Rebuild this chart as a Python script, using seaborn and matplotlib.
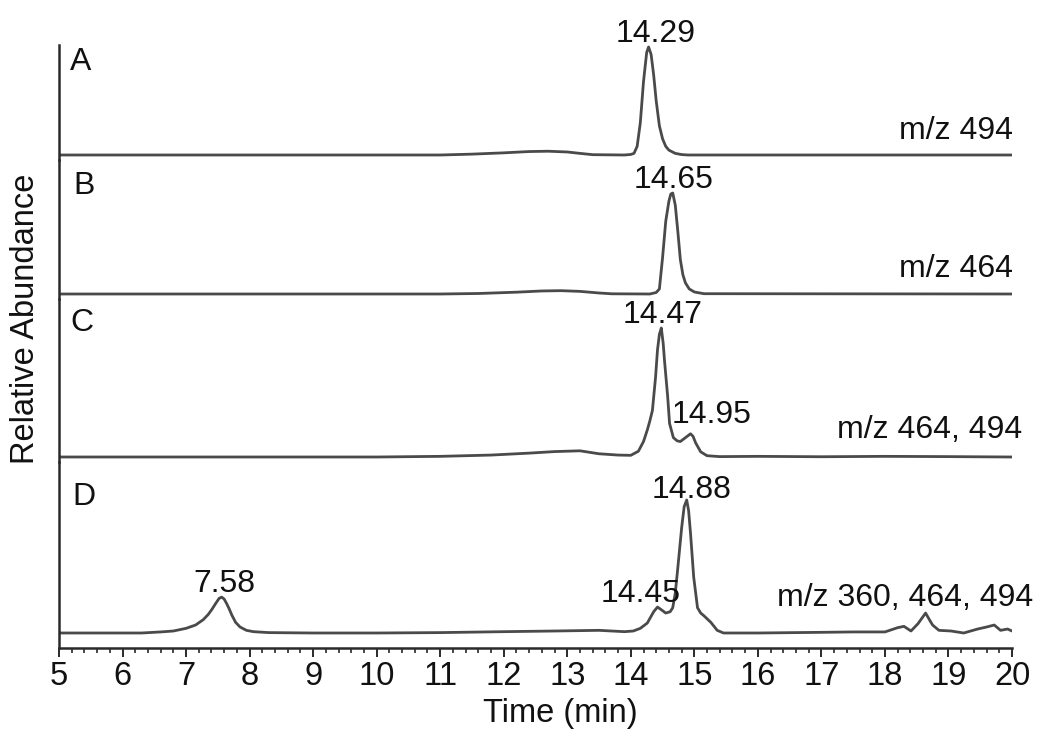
import numpy as np
import pandas as pd
import matplotlib
matplotlib.use("Agg")
import matplotlib.pyplot as plt
from matplotlib.ticker import MultipleLocator
import seaborn as sns

# ---------------- data ----------------
panel_names = ["A", "B", "C", "D"]
mz_labels = ["m/z 494", "m/z 464", "m/z 464, 494", "m/z 360, 464, 494"]

A_t = [5.0, 11.0, 11.5, 12.0, 12.4, 12.7, 13.0, 13.2, 13.4, 13.9, 14.0, 14.05, 14.1,
       14.15, 14.2, 14.25, 14.28, 14.32, 14.36, 14.4, 14.45, 14.5, 14.55, 14.6, 14.7,
       14.8, 14.9, 20.0]
A_v = [0, 0, 0.8, 2.0, 3.2, 3.5, 2.8, 1.5, 0.3, 0, 0.5, 1.5, 8,
       30, 68, 95, 100, 93, 74, 50, 27, 15, 8, 4.5, 1.5,
       0.4, 0, 0]

B_t = [5.0, 11.0, 11.6, 12.2, 12.6, 12.9, 13.2, 13.5, 13.7, 14.3, 14.4, 14.45, 14.5,
       14.55, 14.6, 14.63, 14.66, 14.7, 14.74, 14.78, 14.82, 14.86, 14.92, 15.0, 15.15, 20.0]
B_v = [0, 0, 0.5, 1.8, 3.0, 3.3, 2.6, 1.0, 0.2, 0, 1.5, 5, 36,
       72, 92, 99, 100, 88, 62, 34, 19, 11, 5, 2, 0.3, 0]

C_t = [5.0, 10.0, 11.0, 11.8, 12.4, 12.8, 13.2, 13.5, 13.8, 14.0, 14.12, 14.2, 14.26,
       14.3, 14.34, 14.39, 14.42, 14.45, 14.48, 14.51, 14.53, 14.58, 14.61, 14.67, 14.73,
       14.78, 14.86, 14.94, 14.98, 15.02, 15.1, 15.2, 15.4, 16.0, 17.0, 18.0, 19.0, 20.0]
C_v = [0, 0, 0.5, 1.5, 3.0, 4.2, 4.8, 2.5, 1.5, 1.3, 4.5, 12, 21,
       28, 36, 62, 83, 95, 100, 88, 75, 47, 26, 15, 12.5,
       12, 15, 18, 16, 11, 4, 1, 0.3, 0.5, 0.2, 0.5, 0.3, 0]

D_t = [5.0, 6.3, 6.6, 6.8, 7.0, 7.15, 7.27, 7.35, 7.41, 7.47, 7.52, 7.56, 7.6, 7.64,
       7.68, 7.72, 7.78, 7.85, 7.95, 8.06, 8.3, 9.0, 10.0, 11.0, 12.0, 12.8, 13.5, 13.9,
       14.04, 14.15, 14.26, 14.36, 14.42, 14.48, 14.55, 14.62, 14.66, 14.7, 14.74, 14.8,
       14.84, 14.88, 14.91, 14.94, 14.99, 15.05, 15.1, 15.15, 15.26, 15.36, 15.46, 16.0,
       17.0, 17.5, 18.0, 18.2, 18.3, 18.41, 18.52, 18.58, 18.64, 18.7, 18.75, 18.85,
       19.04, 19.24, 19.46, 19.6, 19.72, 19.82, 19.93, 20.0]
D_v = [0, 0, 0.8, 1.5, 3.5, 6, 10, 14, 18, 22.5, 26, 27, 25.5, 22,
       18, 13.5, 8, 4.5, 2, 1, 0.3, 0, 0, 0.3, 1, 1.5, 2, 1,
       1.5, 3.5, 7.5, 16, 19.5, 17.5, 15, 16, 19, 30, 49, 79,
       95, 100, 92, 75, 42, 19, 15, 13, 8, 2, 0, 0,
       0.5, 0.8, 0.8, 4, 5, 1.5, 7, 11, 15, 10, 6, 2,
       1.5, 0, 3, 4.5, 6, 2, 3, 1.5]

traces_t = [A_t, B_t, C_t, D_t]
traces_v = [A_v, B_v, C_v, D_v]

peak_labels = [["14.29"], ["14.65"], ["14.47", "14.95"], ["7.58", "14.45", "14.88"]]

# ---------------- layout (pixels of a 1050x747 canvas) ----------------
W, H = 1050, 747
x_left, x_right = 59, 1012
panel_top = [45, 160, 299, 462]
panel_bot = [160, 299, 462, 648]
panel_base = [155, 294, 457, 633]
panel_peak = [47, 193, 328, 500]
letter_pos = [(70, 70), (73, 194), (70, 331), (72, 505)]
mz_pos = [(1013, 139), (1013, 277), (1022, 438), (1033, 606)]
ann_off = {"14.29": (6, 5), "14.65": (1, 5), "14.47": (2, 5), "14.95": (20, 11),
           "7.58": (1, 5), "14.45": (-19, 5), "14.88": (5, 2)}

sns.set_theme(style="white")
plt.rcParams["font.family"] = ["Liberation Sans", "DejaVu Sans"]

line_col = "#4a4a4a"
spine_col = "#2a2a2a"
txt_col = "#111111"
fs_txt = 23
fs_tick = 23.5
fs_lab = 23.5

fig = plt.figure(figsize=(W / 100, H / 100), dpi=100)
px2pt = 72 / 100

axes = []
for i in range(4):
    bottom = 1 - panel_bot[i] / H
    height = (panel_bot[i] - panel_top[i]) / H
    ax = fig.add_axes([x_left / W, bottom, (x_right - x_left) / W, height])
    axes.append(ax)
    scale = (panel_base[i] - panel_peak[i]) / 100.0
    ax.set_ylim(-(panel_bot[i] - panel_base[i]) / scale, (panel_base[i] - panel_top[i]) / scale)
    ax.set_xlim(5, 20)
    df = pd.DataFrame({"t": traces_t[i], "v": traces_v[i]})
    sns.lineplot(data=df, x="t", y="v", ax=ax, color=line_col, linewidth=2.0,
                 estimator=None, sort=True)
    ax.set_xlabel("")
    ax.set_ylabel("")
    ax.set_yticks([])
    for s in ["top", "right", "bottom"]:
        ax.spines[s].set_visible(False)
    ax.spines["left"].set_color(spine_col)
    ax.spines["left"].set_linewidth(1.8)
    ax.patch.set_alpha(0)
    if i < 3:
        ax.set_xticks([])
    tt = np.array(traces_t[i]); vv = np.array(traces_v[i])
    for lab in peak_labels[i]:
        tl = float(lab)
        m = np.abs(tt - tl) <= 0.08
        yv = vv[m].max()
        dx, dy = ann_off[lab]
        ax.annotate(lab, xy=(tl, yv), xytext=(dx * px2pt, dy * px2pt),
                    textcoords="offset points", ha="center", va="baseline",
                    fontsize=fs_txt, color=txt_col, annotation_clip=False)
    lx, ly = letter_pos[i]
    fig.text(lx / W, 1 - ly / H, panel_names[i], ha="left", va="baseline",
             fontsize=fs_txt, color=txt_col)
    mx, my = mz_pos[i]
    fig.text(mx / W, 1 - my / H, mz_labels[i], ha="right", va="baseline",
             fontsize=fs_txt, color=txt_col)

axD = axes[3]
axD.spines["bottom"].set_visible(True)
axD.spines["bottom"].set_color(spine_col)
axD.spines["bottom"].set_linewidth(1.8)
axD.xaxis.set_major_locator(MultipleLocator(1))
axD.xaxis.set_minor_locator(MultipleLocator(0.2))
axD.tick_params(axis="x", which="major", direction="out", length=6.5, width=1.4,
                color=spine_col, labelsize=fs_tick, pad=3, bottom=True, labelcolor=txt_col)
axD.tick_params(axis="x", which="minor", direction="out", length=3.6, width=1.2,
                color=spine_col, bottom=True)
axD.set_xlabel("Time (min)", fontsize=fs_lab, color=txt_col)
axD.xaxis.set_label_coords((560 - x_left) / (x_right - x_left), (648 - 698) / (648 - 462))

fig.supylabel("Relative Abundance", x=26 / W, y=1 - 319 / H, ha="center", va="center",
              fontsize=fs_lab, color=txt_col)

fig.savefig("out.png", dpi=100)
